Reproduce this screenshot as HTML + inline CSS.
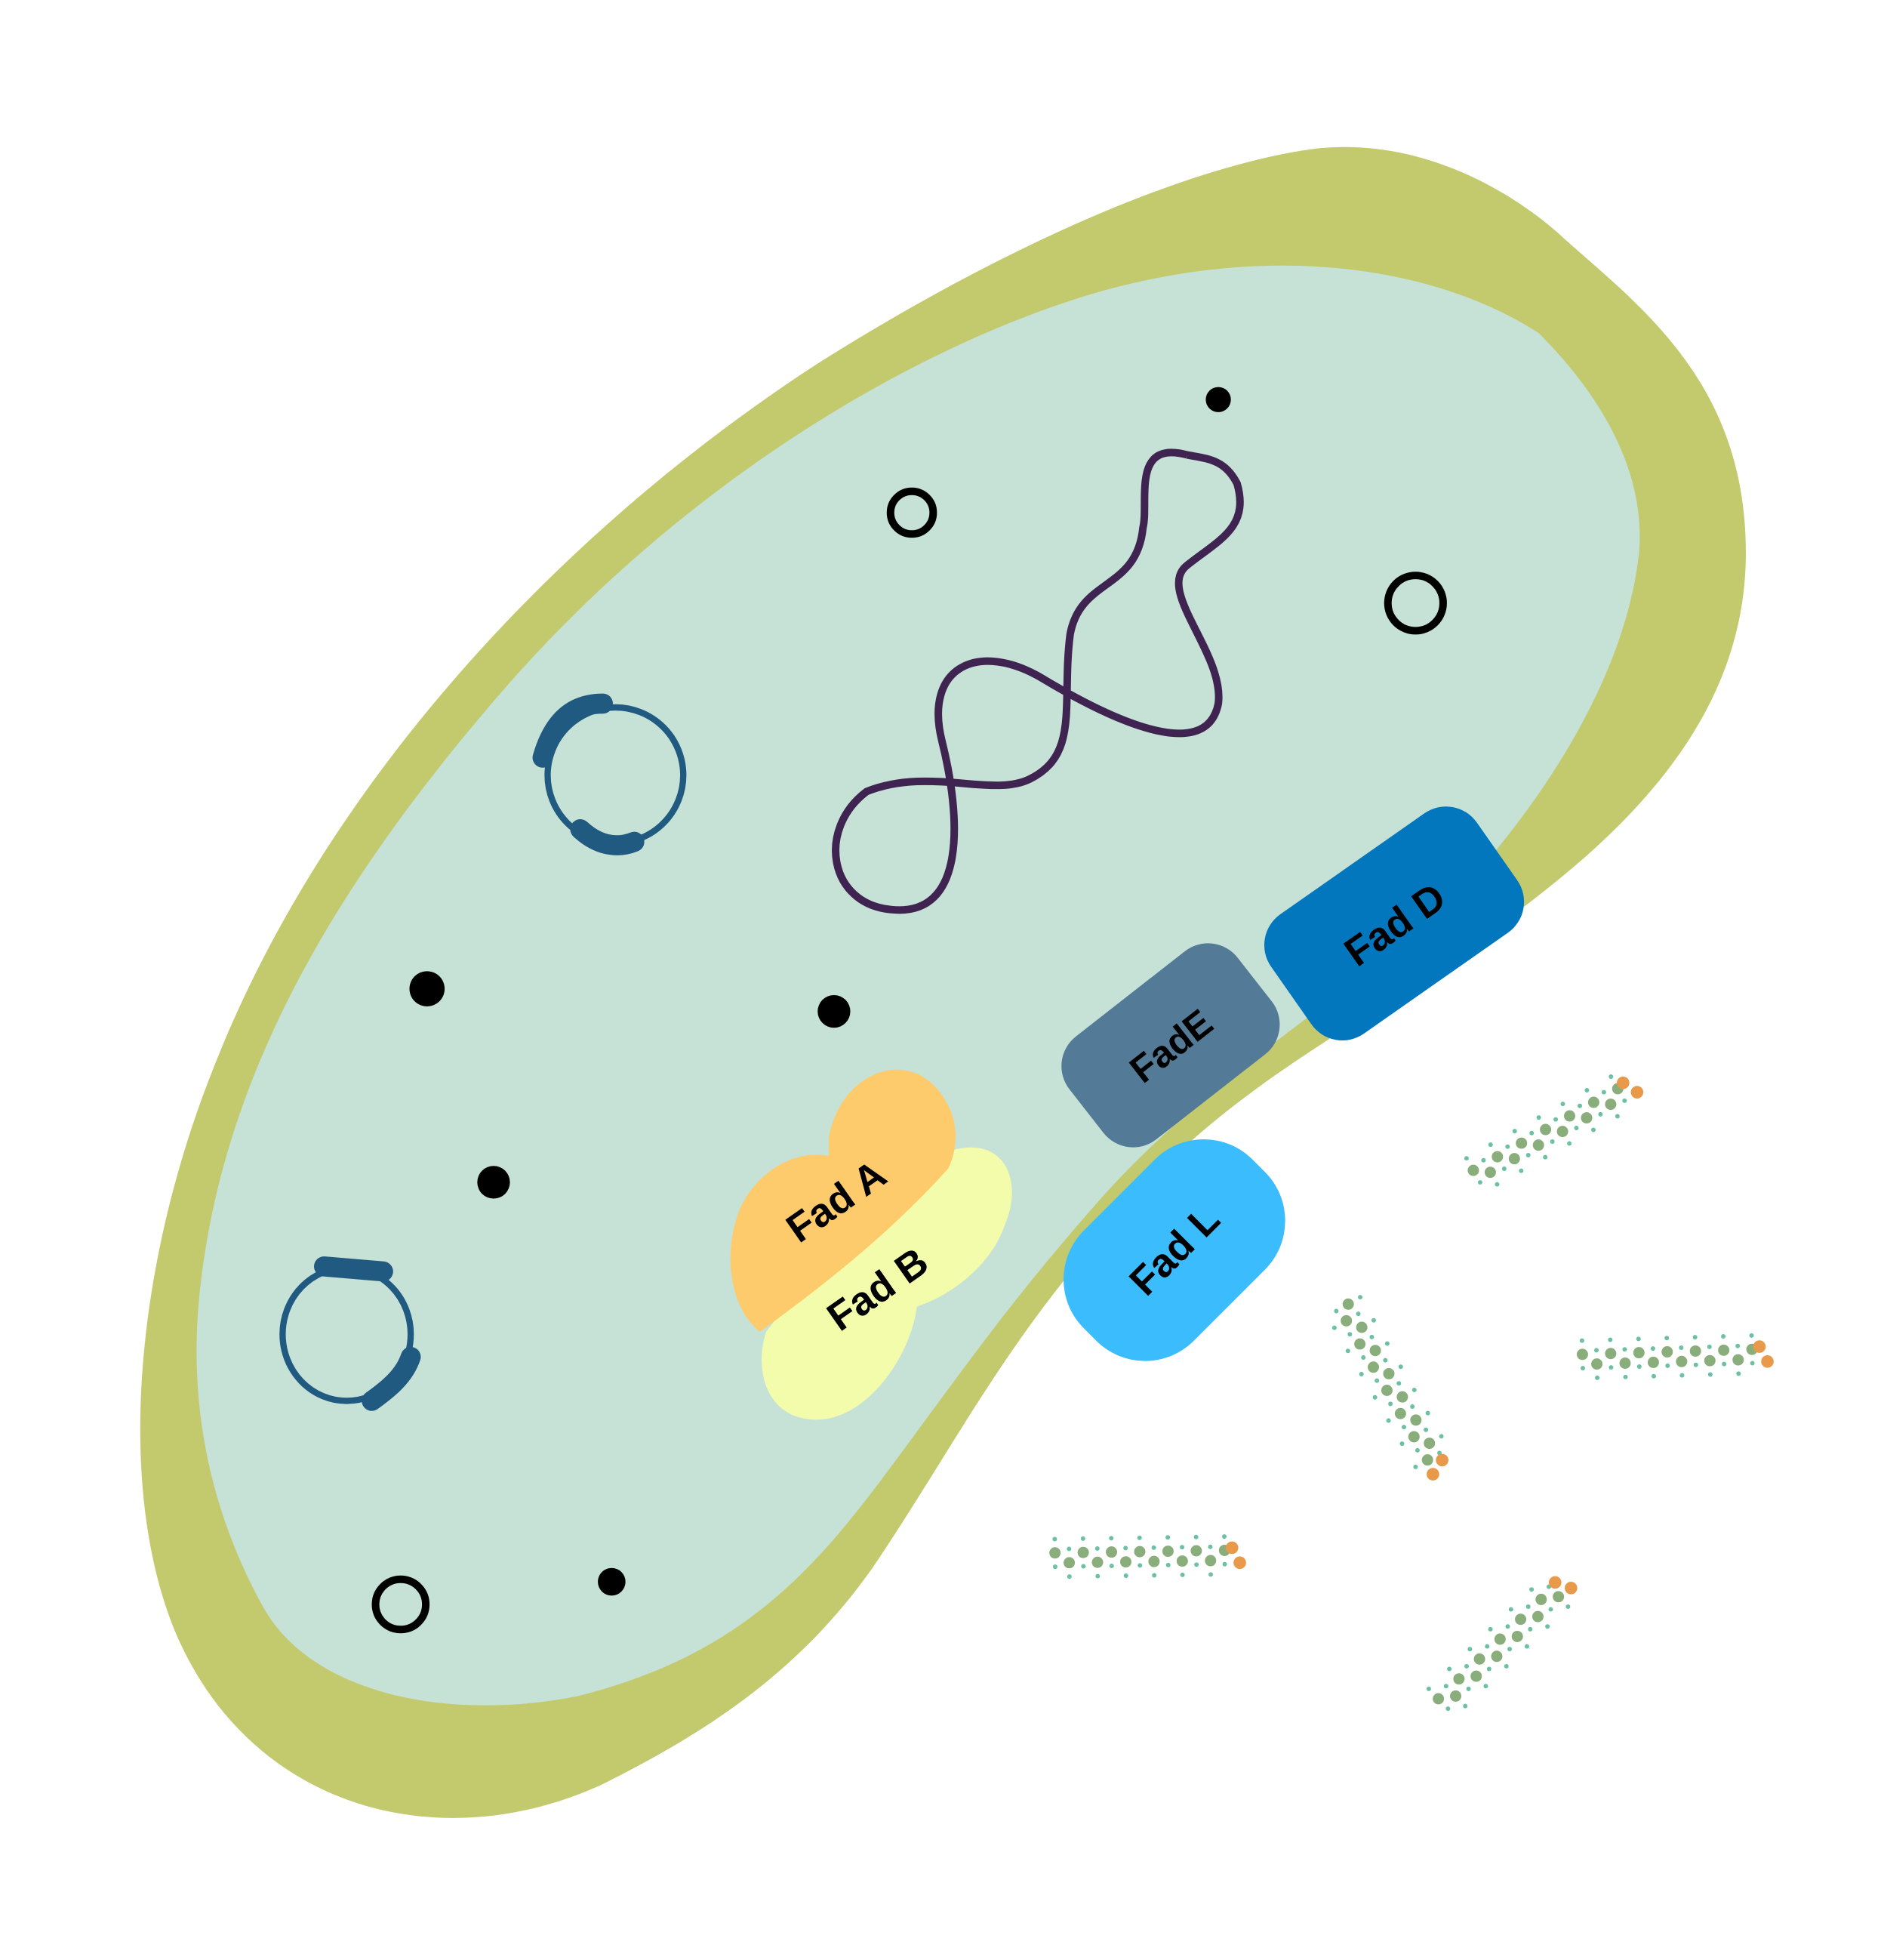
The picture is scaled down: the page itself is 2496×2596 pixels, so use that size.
<!DOCTYPE html>
<html><head><meta charset="utf-8"><style>
html,body{margin:0;padding:0;background:#fff}
svg{display:block}
text{font-family:"Liberation Sans",sans-serif;font-weight:bold;fill:#000}
</style></head><body>
<svg id="s" width="2496" height="2596" viewBox="0 0 1500 1560" xmlns="http://www.w3.org/2000/svg">
<path fill="#c3c96d" d="M1240 185 C1300 240 1390 300 1390 440 C1390 600 1250 700 1130 780 C1050 835 960 880 880 980 C800 1070 760 1150 700 1240 C640 1330 560 1380 480 1420 C350 1480 200 1440 140 1300 C90 1180 110 1000 170 850 C260 620 450 420 650 290 C800 195 950 130 1050 118 C1130 110 1200 150 1240 185 Z"/>
<path fill="#c6e1d6" d="M1225 265 C1280 320 1310 380 1305 440 C1295 530 1240 620 1180 690 C1100 780 980 840 880 950 C800 1040 760 1100 700 1180 C640 1260 580 1320 460 1350 C360 1370 250 1350 210 1280 C160 1190 150 1100 160 1020 C180 850 270 700 400 550 C530 400 700 290 850 240 C1000 190 1140 210 1225 265 Z"/>
<path fill="none" stroke="#3f2350" stroke-width="6" d="M945 362 C900 350 915 400 910 420 C905 470 860 460 852 505 C845 560 860 600 820 620 C790 635 740 610 690 630 C650 660 660 720 710 724 C770 730 765 650 750 590 C735 530 780 510 830 540 C880 570 960 610 970 560 C975 520 920 470 945 450 C970 430 995 420 985 385 C975 365 960 365 945 362"/>
<g fill="none" stroke="#215a81">
<circle cx="490" cy="617" r="54" stroke-width="5"/>
<path d="M432 603 C440 575 455 560 480 560" stroke-width="16" stroke-linecap="round"/>
<path d="M462 660 C475 672 490 676 505 670" stroke-width="16" stroke-linecap="round"/>
</g>
<g fill="none" stroke="#215a81">
<ellipse cx="276" cy="1062" rx="51" ry="53" stroke-width="5"/>
<path d="M258 1008 L305 1012" stroke-width="16" stroke-linecap="round"/>
<path d="M296 1115 C310 1105 322 1095 327 1080" stroke-width="16" stroke-linecap="round"/>
</g>
<g fill="none" stroke="#000" stroke-width="6">
<circle cx="726" cy="408" r="17"/><circle cx="1127" cy="480" r="22"/><circle cx="319" cy="1277" r="20"/>
</g>
<g fill="#000">
<circle cx="970" cy="318" r="10"/><circle cx="340" cy="787" r="14"/><circle cx="664" cy="805" r="13"/><circle cx="393" cy="941" r="13"/><circle cx="487" cy="1259" r="11"/>
</g>
<g transform="translate(1110 735) rotate(-35)">
<rect x="-100" y="-58" width="200" height="116" rx="30" fill="#0277bd"/>
<text x="0" y="12" text-anchor="middle" font-size="32">Fad D</text>
</g>
<g transform="translate(932 832) rotate(-38)">
<rect x="-85" y="-52" width="170" height="104" rx="30" fill="#537b97"/>
<text x="0" y="11" text-anchor="middle" font-size="30">FadE</text>
</g>
<g transform="translate(935 995) rotate(-45)">
<rect x="-95" y="-62" width="190" height="124" rx="55" fill="#3bbdfd"/>
<text x="0" y="11" text-anchor="middle" font-size="32">Fad L</text>
</g>
<g>
<path fill="#f2fcaa" d="M760 915 C800 905 815 940 800 975 C790 1005 760 1030 730 1040 C725 1080 690 1130 650 1130 C610 1130 600 1090 610 1060 C640 1020 700 960 760 915 Z"/>
<text transform="translate(705 1035) rotate(-35)" text-anchor="middle" font-size="32">Fad B</text>
</g>
<g>
<path fill="#fecb6c" d="M660 905 C670 850 730 830 755 880 C765 900 760 920 755 930 C710 980 660 1020 605 1060 C580 1040 575 995 590 960 C605 930 635 915 660 920 Z"/>
<text transform="translate(672 965) rotate(-35)" text-anchor="middle" font-size="32">Fad A</text>
</g>
<g id="fa"></g>
</svg>
<script>
const mols=[[1175,935,1290,870],[1070,1040,1140,1160],[1260,1082,1395,1078],[840,1240,975,1238],[1148,1355,1238,1268]];
const g=document.getElementById('fa');const NS='http://www.w3.org/2000/svg';
mols.forEach((m,i)=>{
 const grp=document.createElementNS(NS,'g');
 
 
 const [x1,y1,x2,y2]=m;const dx=x2-x1,dy=y2-y1,L=Math.hypot(dx,dy);const ux=dx/L,uy=dy/L,px=-uy,py=ux;
 const n=Math.round(L/11);
 for(let k=0;k<=n;k++){
  const t=k/n;const zz=(k%2?4:-4);
  const cx=x1+dx*t+px*zz,cy=y1+dy*t+py*zz;
  let c=document.createElementNS(NS,'circle');c.setAttribute('cx',cx);c.setAttribute('cy',cy);c.setAttribute('r',4.5);c.setAttribute('fill','#8aae7b');grp.appendChild(c);
  [-1,1].forEach(sg=>{let h=document.createElementNS(NS,'circle');h.setAttribute('cx',cx+px*sg*11);h.setAttribute('cy',cy+py*sg*11);h.setAttribute('r',1.8);h.setAttribute('fill','#6cc0a4');grp.appendChild(h);});
 }
 [[6,-6],[12,6]].forEach(o=>{let h=document.createElementNS(NS,'circle');h.setAttribute('cx',x2+ux*o[0]+px*o[1]);h.setAttribute('cy',y2+uy*o[0]+py*o[1]);h.setAttribute('r',5);h.setAttribute('fill','#e89a4a');grp.appendChild(h);});
 g.appendChild(grp);
});
</script>
</body></html>
